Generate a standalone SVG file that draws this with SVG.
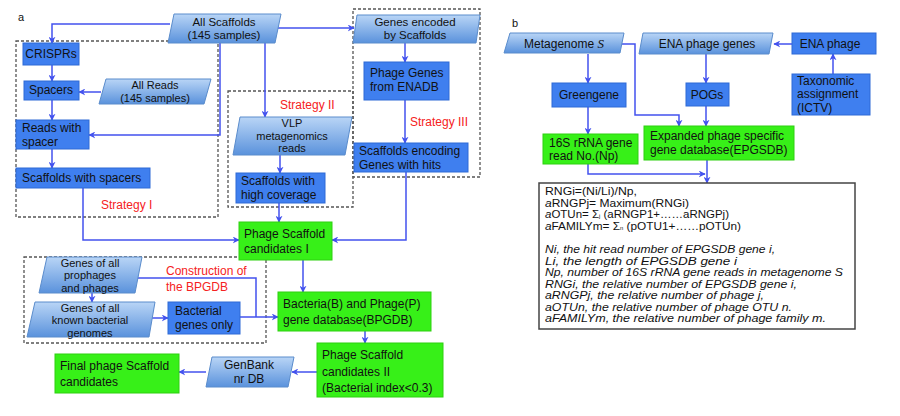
<svg xmlns="http://www.w3.org/2000/svg" width="900" height="416" viewBox="0 0 900 416">
<defs>
<linearGradient id="pg" x1="0" y1="0" x2="0" y2="1">
<stop offset="0" stop-color="#b9d5f6"/>
<stop offset="1" stop-color="#5a92dc"/>
</linearGradient>
<marker id="ah" viewBox="0 0 10 10" refX="9" refY="5" markerWidth="7" markerHeight="7" markerUnits="userSpaceOnUse" orient="auto">
<path d="M0,0 L10,5 L0,10 L3,5 z" fill="#4352ee"/>
</marker>
<style>
text{font-family:"Liberation Sans",Arial,sans-serif;font-size:12px;fill:#111}
.c{text-anchor:middle}
.s11{font-size:11px}
.s115{font-size:11.5px}
.red{fill:#f52222}
.blue{fill:#3f7fef;stroke:#2f6ad6;stroke-width:1}
.green{fill:#37f018;stroke:#2ed010;stroke-width:1}
.para{fill:url(#pg);stroke:#5a8ccc;stroke-width:1}
.dash{fill:none;stroke:#555;stroke-width:1.3;stroke-dasharray:3,2}
.con path{fill:none;stroke:#4352ee;stroke-width:1.5}
.arr{marker-end:url(#ah)}
.f{font-size:10.2px}
.it{font-style:italic}
</style>
</defs>
<rect width="900" height="416" fill="#fff"/>
<text x="18" y="21" style="font-size:11px">a</text>
<text x="512" y="27" style="font-size:11px">b</text>

<!-- dashed strategy boxes -->
<g id="strategy-boxes">
<rect class="dash" x="16" y="41" width="202" height="176"/>
<rect class="dash" x="228" y="91" width="125" height="116"/>
<rect class="dash" x="353" y="9" width="127" height="168"/>
<rect class="dash" x="24" y="257" width="242" height="86"/>
</g>

<g id="labels">
<text class="red" x="101" y="209">Strategy I</text>
<text class="red" x="280" y="109">Strategy II</text>
<text class="red" x="410" y="126">Strategy III</text>
<text class="red" x="166" y="275">Construction of</text>
<text class="red" x="166" y="291">the BPGDB</text>
</g>

<g class="con" id="connectors">
<path class="arr" d="M170,24 H52 V43"/>
<path class="arr" d="M220,43 V135 H89"/>
<path class="arr" d="M265,43 V117"/>
<path class="arr" d="M277,28 H354"/>
<path class="arr" d="M52,65 V81"/>
<path class="arr" d="M101,92 H79"/>
<path class="arr" d="M52,100 V120"/>
<path class="arr" d="M52,149 V168"/>
<path class="arr" d="M83,188 V240 H239"/>
<path class="arr" d="M280,155 V173"/>
<path class="arr" d="M279,203 V222"/>
<path class="arr" d="M405,43 V62"/>
<path class="arr" d="M405,100 V143"/>
<path class="arr" d="M406,172 V240 H332"/>
<path class="arr" d="M303,260 V292"/>
<path d="M137,278 H256 V317"/>
<path class="arr" d="M240,317 H278"/>
<path class="arr" d="M92,293 V302"/>
<path class="arr" d="M152,318 H168"/>
<path class="arr" d="M365,331 V343"/>
<path class="arr" d="M317,372 H292"/>
<path class="arr" d="M206,372 H179"/>
<path class="arr" d="M588,54 V83"/>
<path class="arr" d="M588,107 V134"/>
<path class="arr" d="M621,44 H635 V115 H679 V126"/>
<path class="arr" d="M792,44 H774"/>
<path class="arr" d="M833,74 V54"/>
<path class="arr" d="M706,54 V83"/>
<path class="arr" d="M706,106 V126"/>
<path class="arr" d="M588,164 V174 H705"/>
<path class="arr" d="M707,160 V183"/>
</g>

<!-- panel a nodes -->
<g id="all-scaffolds"><polygon class="para" points="174,14 281,14 275,43 168,43"/><text class="c s115" x="224" y="26">All Scaffolds</text><text class="c s115" x="224" y="39">(145 samples)</text></g>
<g id="crisprs"><rect class="blue" x="23" y="43" width="56" height="22"/><text class="c" x="51" y="58">CRISPRs</text></g>
<g id="spacers"><rect class="blue" x="24" y="81" width="55" height="19"/><text class="c" x="51" y="94">Spacers</text></g>
<g id="all-reads"><polygon class="para" points="106,79 211,79 204,104 99,104"/><text class="c s11" x="155" y="89">All Reads</text><text class="c s11" x="155" y="101.5">(145 samples)</text></g>
<g id="reads-with-spacer"><rect class="blue" x="16" y="120" width="73" height="29"/><text x="22" y="132">Reads with</text><text x="22" y="145.5">spacer</text></g>
<g id="scaffolds-with-spacers"><rect class="blue" x="16" y="168" width="134" height="20"/><text x="22" y="182">Scaffolds with spacers</text></g>
<g id="vlp"><polygon class="para" points="240,117 352,117 345,155 233,155"/><text class="c s11" x="292" y="127">VLP</text><text class="c s11" x="292" y="139.5">metagenomics</text><text class="c s11" x="292" y="152">reads</text></g>
<g id="scaffolds-high-coverage"><rect class="blue" x="236" y="173" width="89" height="30"/><text x="241" y="185">Scaffolds with</text><text x="241" y="198.5">high coverage</text></g>
<g id="genes-encoded"><polygon class="para" points="357,15 480,15 476,43 353,43"/><text class="c s115" x="415" y="26">Genes encoded</text><text class="c s115" x="415" y="39">by Scaffolds</text></g>
<g id="phage-genes-enadb"><rect class="blue" x="364" y="62" width="85" height="38"/><text x="370" y="77">Phage Genes</text><text x="370" y="91">from ENADB</text></g>
<g id="scaffolds-encoding"><rect class="blue" x="354" y="143" width="114" height="29"/><text x="359" y="155">Scaffolds encoding</text><text x="359" y="168.5">Genes with hits</text></g>
<g id="psc1"><rect class="green" x="239" y="222" width="93" height="38"/><text x="244" y="238">Phage Scaffold</text><text x="244" y="253">candidates I</text></g>
<g id="genes-prophages"><polygon class="para" points="47,257 142,257 135,293 39,293"/><text class="c s11" x="90" y="266.5">Genes of all</text><text class="c s11" x="90" y="279">prophages</text><text class="c s11" x="90" y="291.5">and phages</text></g>
<g id="genes-bacterial"><polygon class="para" points="35,302 155,302 149,337 27,337"/><text class="c s11" x="90" y="311.5">Genes of all</text><text class="c s11" x="90" y="324">known bacterial</text><text class="c s11" x="90" y="336.5">genomes</text></g>
<g id="bacterial-genes-only"><rect class="blue" x="168" y="302" width="72" height="32"/><text x="175" y="315">Bacterial</text><text x="175" y="328.5">genes only</text></g>
<g id="bpgdb"><rect class="green" x="278" y="292" width="153" height="39"/><text x="283" y="308">Bacteria(B) and Phage(P)</text><text x="283" y="324">gene database(BPGDB)</text></g>
<g id="psc2"><rect class="green" x="317" y="343" width="126" height="54"/><text x="322" y="359">Phage Scaffold</text><text x="322" y="376">candidates II</text><text x="322" y="392">(Bacterial index&lt;0.3)</text></g>
<g id="genbank"><polygon class="para" points="212,357 294,357 288,387 206,387"/><text class="c" x="249" y="369">GenBank</text><text class="c" x="249" y="382.5">nr DB</text></g>
<g id="final"><rect class="green" x="55" y="354" width="124" height="39"/><text x="60" y="370">Final phage Scaffold</text><text x="60" y="386">candidates</text></g>

<!-- panel b nodes -->
<g id="metagenome"><polygon class="para" points="510,33 624,33 620,53 504,53"/><text class="c" x="564" y="48">Metagenome <tspan style="font-family:'Liberation Serif',serif;font-style:italic;font-size:13px">S</tspan></text></g>
<g id="ena-phage-genes"><polygon class="para" points="643,33 773,33 769,54 639,54"/><text class="c" x="707" y="48">ENA phage genes</text></g>
<g id="ena-phage"><rect class="blue" x="792" y="33" width="84" height="21"/><text class="c" x="830" y="48">ENA phage</text></g>
<g id="taxonomic"><rect class="blue" x="792" y="74" width="78" height="41"/><text x="797" y="85">Taxonomic</text><text x="797" y="98.4">assignment</text><text x="797" y="111.8">(ICTV)</text></g>
<g id="greengene"><rect class="blue" x="552" y="83" width="74" height="24"/><text class="c" x="589" y="99">Greengene</text></g>
<g id="pogs"><rect class="blue" x="686" y="83" width="43" height="23"/><text class="c" x="707" y="99">POGs</text></g>
<g id="rrna"><rect class="green" x="543" y="134" width="95" height="30"/><text x="549" y="146.5">16S rRNA gene</text><text x="549" y="160">read No.(Np)</text></g>
<g id="epgsdb"><rect class="green" x="644" y="126" width="150" height="34"/><text x="650" y="140">Expanded phage specific</text><text x="650" y="153.5">gene database(EPGSDB)</text></g>

<g id="formula-box">
<rect x="539" y="183" width="316" height="146" fill="#fff" stroke="#444" stroke-width="1.5"/>
<text class="f" x="545" y="195" textLength="92" lengthAdjust="spacingAndGlyphs">RNGi=(Ni/Li)/Np,</text>
<text class="f" x="545" y="206.5" textLength="144" lengthAdjust="spacingAndGlyphs"><tspan class="it">a</tspan>RNGPj= Maximum(RNGi)</text>
<text class="f" x="545" y="218" textLength="184" lengthAdjust="spacingAndGlyphs"><tspan class="it">a</tspan>OTUn= Σ<tspan style="font-size:5px">j</tspan> (aRNGP1+……aRNGPj)</text>
<text class="f" x="545" y="229.5" textLength="196" lengthAdjust="spacingAndGlyphs"><tspan class="it">a</tspan>FAMILYm= Σ<tspan style="font-size:5px">n</tspan> (pOTU1+……pOTUn)</text>
<text class="f it" x="545" y="253" textLength="230" lengthAdjust="spacingAndGlyphs">Ni, the hit read number of EPGSDB gene i,</text>
<text class="f it" x="545" y="264.5" textLength="192" lengthAdjust="spacingAndGlyphs">Li, the length of EPGSDB gene i</text>
<text class="f it" x="545" y="276" textLength="298" lengthAdjust="spacingAndGlyphs">Np, number of 16S rRNA gene reads in metagenome S</text>
<text class="f it" x="545" y="287.5" textLength="252" lengthAdjust="spacingAndGlyphs">RNGi,  the relative number of EPGSDB gene  i,</text>
<text class="f it" x="545" y="299" textLength="219" lengthAdjust="spacingAndGlyphs">aRNGPj, the relative number of phage j,</text>
<text class="f it" x="545" y="310.5" textLength="247" lengthAdjust="spacingAndGlyphs">aOTUn, the relative number of phage OTU n.</text>
<text class="f it" x="545" y="322" textLength="281" lengthAdjust="spacingAndGlyphs">aFAMILYm, the relative number of phage family m.</text>
</g>
</svg>
